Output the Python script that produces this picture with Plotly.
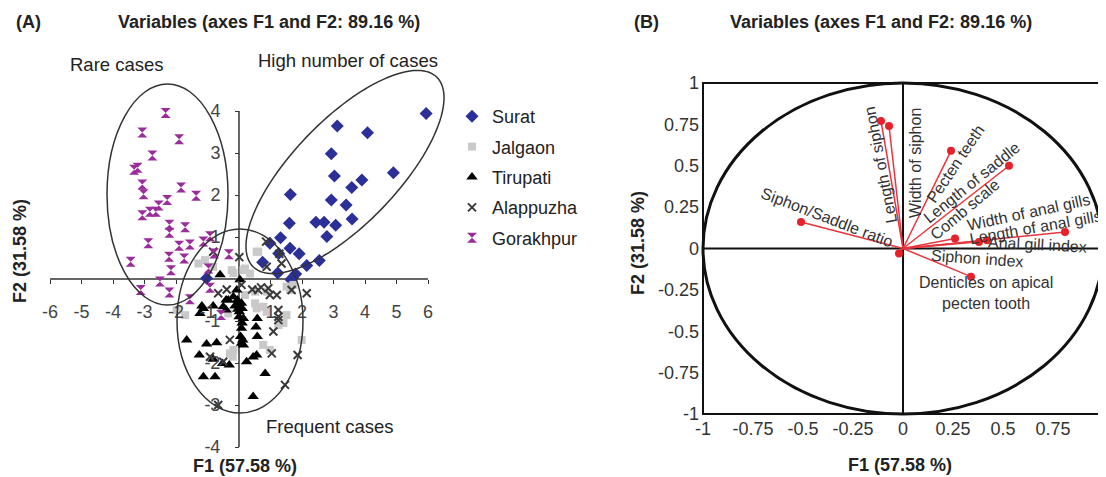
import math
import plotly.graph_objects as go

# ---------------- DATA ----------------
# Panel A: PCA scores (F1, F2) per location
surat_x = [5.94, 3.12, 4.08, 2.93, 3.03, 4.90, 3.90, 3.58, 1.63, 2.93, 3.40, 3.59, 1.60, 2.44, 2.70,
           3.07, 2.79, 1.32, 0.98, 1.62, 1.91, 1.26, 2.55, 0.75, 2.15, 1.23, 1.80, 1.65, 1.70, -1.03]
surat_y = [3.94, 3.64, 3.48, 2.98, 2.45, 2.53, 2.36, 2.18, 2.01, 1.88, 1.76, 1.43, 1.33, 1.35, 1.35,
           1.28, 1.01, 0.98, 0.85, 0.73, 0.60, 0.61, 0.44, 0.40, 0.32, 0.14, 0.12, -0.02, 0.03, 0.02]

jalgaon_x = [0.56, 0.61, -1.08, -0.82, 0.19, -1.29, 0.35, 0.14, -0.23, -0.18, 1.51, 1.73, 1.62, 1.51,
             1.99, 0.56, 0.77, -0.34, -0.29, -0.20, 0.77, 1.25, -1.71, 0.88, 0.51, 0.51, 0.19, -1.98,
             0.88, 1.41, -0.18, 0.98]
jalgaon_y = [0.65, 0.65, 0.45, 0.29, 0.25, 0.37, 0.13, 0.21, 0.21, 0.14, -0.18, -0.14, -0.26, -0.86,
             -1.45, -0.70, -0.66, -0.82, -1.77, -1.85, -1.57, -1.10, -0.86, -0.30, -0.30, -0.58, -0.38,
             -0.74, -0.78, -1.05, -1.69, -1.69]

tirupati_x = [-0.60, 0.03, -0.07, -0.18, -0.05, 0.08, -1.18, -1.24, -0.82, -0.41, -0.41, -0.13, 0.01,
              0.14, 0.08, 0.05, 0.14, 0.58, 0.54, 0.58, -1.66, -1.03, -0.71, -1.26, -0.82, -0.52, -0.31,
              0.24, 0.56, -1.13, -0.76, 0.83, 0.45, -1.13, -0.34, -0.04, 0.08, 0.45, 0.10, 0.00, 0.10,
              0.12, -0.50, -0.07]
tirupati_y = [0.10, -0.02, -0.26, -0.42, -0.50, -0.58, -0.64, -0.82, -0.64, -0.50, -0.74, -0.64, -0.78,
              -0.94, -1.17, -1.37, -1.57, -0.94, -1.14, -1.37, -1.45, -1.55, -1.52, -1.81, -1.91, -2.01,
              -2.05, -1.97, -1.81, -2.33, -2.33, -2.25, -2.80, -0.70, -0.50, -0.72, -1.53, -1.86, -0.70,
              -0.90, -1.05, -1.45, -0.66, -0.62]

alappuzha_x = [0.01, 0.86, 1.28, 1.35, 0.88, 1.67, 1.20, 0.93, 0.70, 0.42, 0.08, -0.39, 1.25, 1.25,
               1.09, 1.04, 1.86, 1.46, -0.29, -0.92, -0.50, -0.66, -0.82, 0.98, 0.61, -0.66, 2.15, 1.25]
alappuzha_y = [0.52, 0.89, 0.60, 0.37, 0.29, -0.26, -0.38, -0.22, -0.20, -0.25, -0.14, -0.25, -0.74, -0.90,
               -1.25, -1.77, -1.81, -2.52, -1.45, -1.85, -1.97, -3.00, 0.65, -0.38, -0.26, -0.34, -0.34, -0.98]

gorakhpur_x = [-2.33, -3.07, -1.90, -2.75, -3.33, -3.22, -3.07, -3.03, -1.84, -1.36, -2.28, -2.55, -2.64,
               -2.83, -3.07, -2.21, -2.21, -1.71, -2.88, -1.90, -1.56, -0.92, -2.22, -1.74, -0.79, -0.32,
               -3.44, -2.16, -0.97, -2.51, -3.12, -2.21, -0.92, -1.56, -0.57, -1.13]
gorakhpur_y = [3.95, 3.49, 3.33, 2.94, 2.60, 2.65, 2.25, 2.02, 2.18, 1.98, 1.88, 1.75, 1.60, 1.60, 1.52,
               1.29, 1.10, 1.23, 0.85, 0.79, 0.82, 1.02, 0.53, 0.49, 0.61, 0.59, 0.41, 0.21, 0.25, -0.06,
               -0.26, -0.32, -0.21, -0.48, -0.86, 0.89]

a_xticks = [-6, -5, -4, -3, -2, -1, 1, 2, 3, 4, 5, 6]
a_xticktext = ["-6", "-5", "-4", "-3", "-2", "-1", "1", "2", "3", "4", "5", "6"]
a_yticks = [-4, -3, -2, -1, 1, 2, 3, 4]
a_yticktext = ["-4", "-3", "-2", "-1", "1", "2", "3", "4"]

# Panel B: variable loadings (F1, F2)
var_names = ["Length of siphon", "Width of siphon", "Pecten teeth", "Length of saddle", "Comb scale",
             "Width of anal gills", "Length of anal gills", "Anal gill index", "Siphon index",
             "Denticles on apical pecten tooth", "Siphon/Saddle ratio"]
var_f1 = [-0.11, -0.07, 0.24, 0.53, 0.26, 0.42, 0.81, 0.38, -0.02, 0.34, -0.51]
var_f2 = [0.77, 0.74, 0.59, 0.50, 0.06, 0.05, 0.10, 0.04, -0.03, -0.17, 0.16]

b_ticks = [-1, -0.75, -0.5, -0.25, 0, 0.25, 0.5, 0.75, 1]
b_ticktext = ["-1", "-0.75", "-0.5", "-0.25", "0", "0.25", "0.5", "0.75", "1"]

# ---------------- LAYOUT HELPERS ----------------
OFF = 8  # page body margin
W, H = 1106 - OFF, 477 - OFF
FONT = "Liberation Sans, Arial, sans-serif"


def fx(p):
    return (p - OFF) / W


def fy(p):
    return 1 - (p - OFF) / H


# panel A pixel mapping
AX0, AXS, AY0, AYS = 239.0, 31.5, 279.0, 42.0


def ax(p):
    return (p - AX0) / AXS


def ay(p):
    return (AY0 - p) / AYS


# panel B pixel mapping
BX0, BXS, BY0, BYS = 903.0, 200.0, 248.5, 165.5


def bx(p):
    return (p - BX0) / BXS


def by(p):
    return (BY0 - p) / BYS


fig = go.Figure()

groups = [
    ("Surat", surat_x, surat_y, dict(symbol="diamond", size=10, color="#2b2f98")),
    ("Jalgaon", jalgaon_x, jalgaon_y, dict(symbol="square", size=8, color="#c9c9c9")),
    ("Tirupati", tirupati_x, tirupati_y, dict(symbol="triangle-up", size=10, color="#000000")),
    ("Alappuzha", alappuzha_x, alappuzha_y,
     dict(symbol="x-thin", size=8, color="#3a3a3a", line=dict(width=2, color="#3a3a3a"))),
    ("Gorakhpur", gorakhpur_x, gorakhpur_y, dict(symbol="hourglass", size=10, color="#9b2d9b")),
]
for name, xs, ys, mk in groups:
    fig.add_trace(go.Scatter(x=xs, y=ys, mode="markers", name=name, marker=mk,
                             legendgroup=name, xaxis="x", yaxis="y"))

# panel B vectors
for n, vx, vy in zip(var_names, var_f1, var_f2):
    fig.add_trace(go.Scatter(x=[0, vx], y=[0, vy], mode="lines",
                             line=dict(color="#e8353d", width=1.5),
                             showlegend=False, hoverinfo="skip", xaxis="x2", yaxis="y2"))
fig.add_trace(go.Scatter(x=var_f1, y=var_f2, mode="markers", text=var_names,
                         marker=dict(color="#e8202a", size=8), showlegend=False,
                         xaxis="x2", yaxis="y2"))

shapes = []
# panel A axis lines (from tick extents)
shapes.append(dict(type="line", xref="x", yref="y", x0=min(a_xticks), x1=max(a_xticks), y0=0, y1=0,
                   line=dict(color="#333", width=1.5), layer="below"))
shapes.append(dict(type="line", xref="x", yref="y", x0=0, x1=0, y0=min(a_yticks), y1=max(a_yticks),
                   line=dict(color="#333", width=1.5), layer="below"))
# Rare cases ellipse
shapes.append(dict(type="circle", xref="x", yref="y", x0=ax(107), x1=ax(228), y0=ay(305), y1=ay(84),
                   line=dict(color="#333", width=1.5)))
# Frequent cases ellipse
shapes.append(dict(type="circle", xref="x", yref="y", x0=ax(177), x1=ax(303), y0=ay(413), y1=ay(229),
                   line=dict(color="#333", width=1.5)))
# High number of cases (tilted ellipse, defined in pixel space)
cxp, cyp, ea, eb, ang = 345.0, 172.0, 132.0, 52.0, math.radians(-46.0)
pts = []
for i in range(121):
    t = 2 * math.pi * i / 120
    u, v = ea * math.cos(t), eb * math.sin(t)
    px = cxp + u * math.cos(ang) - v * math.sin(ang)
    py = cyp + u * math.sin(ang) + v * math.cos(ang)
    pts.append((ax(px), ay(py)))
path = "M " + " L ".join(f"{x:.4f},{y:.4f}" for x, y in pts) + " Z"
shapes.append(dict(type="path", xref="x", yref="y", path=path, line=dict(color="#333", width=1.5)))

# panel B frame, circle, cross
shapes.append(dict(type="rect", xref="x2", yref="y2", x0=-1, x1=1, y0=-1, y1=1,
                   line=dict(color="#111", width=2), layer="below"))
shapes.append(dict(type="circle", xref="x2", yref="y2", x0=-1, x1=1, y0=-1, y1=1,
                   line=dict(color="#111", width=3), layer="below"))
shapes.append(dict(type="line", xref="x2", yref="y2", x0=-1, x1=1, y0=0, y1=0,
                   line=dict(color="#111", width=2), layer="below"))
shapes.append(dict(type="line", xref="x2", yref="y2", x0=0, x1=0, y0=-1, y1=1,
                   line=dict(color="#111", width=2), layer="below"))

ann = []


def paper_text(text, xp, yp, size=18, bold=False, angle=0, color="#222"):
    ann.append(dict(text=f"<b>{text}</b>" if bold else text, x=fx(xp), y=fy(yp), xref="paper",
                    yref="paper", showarrow=False, textangle=angle, xanchor="center", yanchor="middle",
                    font=dict(size=size, color=color, family=FONT)))


paper_text("(A)", 28, 22, bold=True)
paper_text("Variables (axes F1 and F2: 89.16 %)", 269, 22, bold=True)
paper_text("(B)", 646, 22, bold=True)
paper_text("Variables (axes F1 and F2: 89.16 %)", 881, 22, bold=True)
paper_text("F1 (57.58 %)", 245, 466, bold=True)
paper_text("F2 (31.58 %)", 20, 251, bold=True, angle=-90)
paper_text("F1 (57.58 %)", 900, 465, bold=True)
paper_text("F2 (31.58 %)", 638, 243, bold=True, angle=-90)
paper_text("Rare cases", 117, 64, size=18.5)
paper_text("High number of cases", 348, 61, size=18.5)
paper_text("Frequent cases", 330, 426, size=18.5)

# panel B variable labels (position px, angle)
label_pos = {
    "Length of siphon": (881, 165, -101),
    "Width of siphon": (916, 163, -90),
    "Pecten teeth": (956, 164, -56),
    "Length of saddle": (972, 183, -39),
    "Comb scale": (965, 210, -40),
    "Width of anal gills": (1028, 213, -12),
    "Length of anal gills": (1035, 228, -10),
    "Anal gill index": (1037, 245, 3),
    "Siphon index": (977, 259, 4),
    "Denticles on apical pecten tooth": (986, 293, 0),
    "Siphon/Saddle ratio": (827, 218, 21),
}
for n in var_names:
    px, py, a = label_pos[n]
    txt = "Denticles on apical<br>pecten tooth" if n.startswith("Denticles") else n
    ann.append(dict(text=txt, x=bx(px), y=by(py), xref="x2", yref="y2", showarrow=False,
                    textangle=a, xanchor="center", yanchor="middle", align="center",
                    font=dict(size=16, color="#333", family=FONT)))

fig.update_layout(
    width=W, height=H, margin=dict(l=0, r=0, t=0, b=0, pad=0, autoexpand=False),
    paper_bgcolor="white", plot_bgcolor="white",
    font=dict(family=FONT, color="#222"),
    shapes=shapes, annotations=ann,
    showlegend=True,
    legend=dict(x=fx(452), y=fy(98), xanchor="left", yanchor="top", font=dict(size=18, color="#222"),
                bgcolor="rgba(0,0,0,0)", tracegroupgap=4),
    xaxis=dict(domain=[fx(40), fx(452)], range=[ax(40), ax(452)], anchor="free", position=fy(AY0),
               tickvals=a_xticks, ticktext=a_xticktext, ticks="outside", ticklen=4, tickcolor="#333",
               showline=False, showgrid=False, zeroline=False, ticklabelstandoff=12, automargin=False,
               tickfont=dict(size=18, color="#444")),
    yaxis=dict(domain=[fy(458), fy(58)], range=[ay(458), ay(58)], anchor="free", position=fx(AX0),
               tickvals=a_yticks, ticktext=a_yticktext, ticks="outside", ticklen=4, tickcolor="#333",
               showline=False, showgrid=False, zeroline=False, ticklabelstandoff=11, automargin=False,
               tickfont=dict(size=18, color="#444")),
    xaxis2=dict(domain=[fx(BX0 - 1.015 * BXS), min(1.0, fx(BX0 + 1.015 * BXS))], range=[-1.015, 1.015],
                anchor="y2", tickvals=b_ticks, ticktext=b_ticktext, ticks="", showline=False,
                showgrid=False, zeroline=False, automargin=False, tickfont=dict(size=18, color="#333")),
    yaxis2=dict(domain=[fy(BY0 + 1.015 * BYS), fy(BY0 - 1.015 * BYS)], range=[-1.015, 1.015],
                anchor="x2", tickvals=b_ticks, ticktext=b_ticktext, ticks="", showline=False,
                showgrid=False, zeroline=False, automargin=False, tickfont=dict(size=18, color="#333")),
)

fig.write_html("out.html")
